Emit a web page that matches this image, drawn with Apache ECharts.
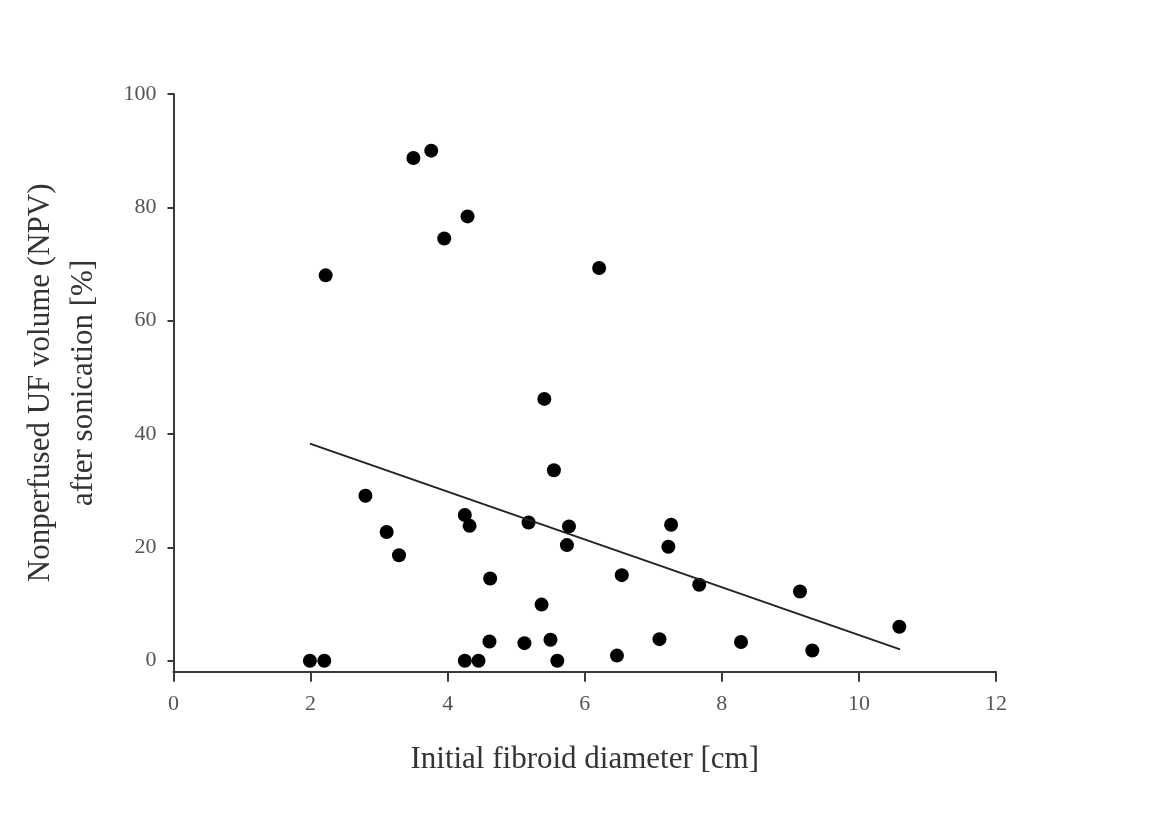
<!DOCTYPE html>
<html>
<head>
<meta charset="utf-8">
<script src="https://cdn.jsdelivr.net/npm/echarts@6/dist/echarts.min.js"></script>
<style>
    html, body { margin: 0; padding: 0; background: #fff; }
    #chart { width: 1154px; height: 830px; }
</style>
</head>
<body>
<div id="chart"></div>
<script>
// initial fibroid diameter [cm]
var diameters = [1.99, 2.20, 2.22, 2.80, 3.11, 3.29, 3.50, 3.76, 3.95, 4.25, 4.32, 4.29,
    4.25, 4.45, 4.61, 4.62, 5.12, 5.18, 5.37, 5.41, 5.50, 5.55, 5.60, 5.74, 5.77, 6.21,
    6.47, 6.54, 7.09, 7.22, 7.26, 7.67, 8.28, 9.14, 9.32, 10.59];
// NPV after sonication [%]
var npv = [0, 0, 68.0, 29.1, 22.7, 18.6, 88.7, 90.0, 74.5, 25.7, 23.8, 78.4,
    0, 0, 3.4, 14.5, 3.1, 24.4, 9.9, 46.2, 3.7, 33.6, 0, 20.4, 23.7, 69.3,
    0.9, 15.1, 3.8, 20.1, 24.0, 13.4, 3.3, 12.2, 1.8, 6.0];
// trend line end points
var trendX = [1.99, 10.6];
var trendY = [38.3, 2.0];

var xTicks = [0, 2, 4, 6, 8, 10, 12];
var yTicks = [0, 20, 40, 60, 80, 100];

var points = [], trend = [];
diameters.forEach(function (d, i) {
    points.push([d, npv[i]]);
});
trendX.forEach(function (d, i) {
    trend.push([d, trendY[i]]);
});

var myChart = echarts.init(document.getElementById('chart'));
var serif = '"Liberation Serif", "Times New Roman", serif';
var options = {
    animation: false,
    backgroundColor: '#fff',
    grid: {left: 173.5, right: 158, top: 94, bottom: 158.3},
    xAxis: {
        type: 'value',
        min: 0,
        max: 12,
        interval: 2,
        name: 'Initial fibroid diameter [cm]',
        nameLocation: 'middle',
        nameGap: 73,
        nameTextStyle: {fontFamily: serif, fontSize: 31, color: '#333'},
        axisLine: {onZero: false, lineStyle: {color: '#3a3a3a', width: 2}},
        axisTick: {length: 10, lineStyle: {color: '#3a3a3a', width: 2}},
        axisLabel: {
            margin: 22, fontFamily: serif, fontSize: 22, color: '#555',
            customValues: xTicks
        },
        splitLine: {show: false}
    },
    yAxis: {
        type: 'value',
        min: -1.94,
        max: 100,
        name: 'Nonperfused UF volume (NPV)\nafter sonication [%]',
        nameLocation: 'middle',
        nameGap: 68,
        nameTextStyle: {fontFamily: serif, fontSize: 31, color: '#333', lineHeight: 43},
        axisLine: {lineStyle: {color: '#3a3a3a', width: 2}},
        axisTick: {length: 6, customValues: yTicks, lineStyle: {color: '#3a3a3a', width: 2}},
        axisLabel: {
            margin: 17, fontFamily: serif, fontSize: 22, color: '#555',
            customValues: yTicks
        },
        splitLine: {show: false}
    },
    series: [
        {
            name: 'NPV',
            type: 'scatter',
            symbol: 'circle',
            symbolSize: 14,
            itemStyle: {color: '#000', opacity: 1},
            data: points
        },
        {
            name: 'trend',
            type: 'line',
            symbol: 'none',
            lineStyle: {color: '#222', width: 2},
            data: trend
        }
    ]
};
myChart.setOption(options);
</script>
</body>
</html>
